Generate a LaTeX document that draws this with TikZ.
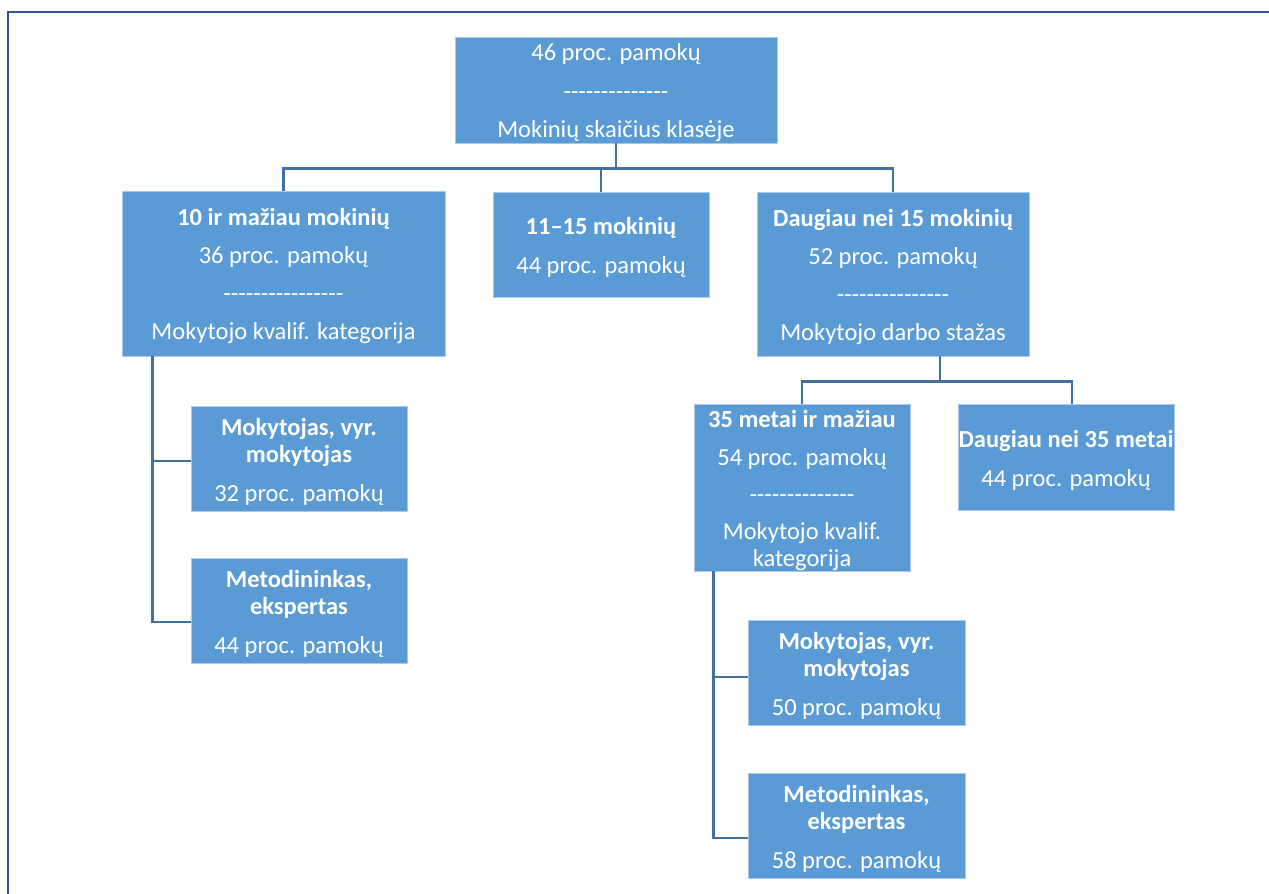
\documentclass[tikz,border=0pt]{standalone}
\usepackage{fontspec}
\newfontfamily\cfont{Carlito}
\definecolor{boxfill}{HTML}{5B9BD5}
\definecolor{boxedge}{HTML}{A9C9EA}
\definecolor{conn}{HTML}{41719C}
\definecolor{frame}{HTML}{2F5597}
\newcommand{\tstrut}{\rule{0pt}{23pt}}
\begin{document}
\begin{tikzpicture}[x=1pt,y=-1pt,
  box/.style={draw=boxedge, line width=0.8pt, fill=boxfill, text=white, inner sep=0pt,
    align=center, font=\cfont\fontsize{24.5}{27}\selectfont},
  link/.style={draw=conn, line width=2.5pt}]
\useasboundingbox (0,0) rectangle (1269,894);
\draw[frame, line width=1.6pt] (8,894) -- (8,12) -- (1269,12);

\node[box, minimum width=322pt, minimum height=106pt] (T) at (616,90)
  {\tstrut 46 proc. pamokų\\[11.5pt]--------------\\[11.5pt]Mokinių skaičius klasėje};
\node[box, minimum width=323pt, minimum height=165pt] (L) at (283.5,273.5)
  {\tstrut\textbf{10 ir mažiau mokinių}\\[11pt]36 proc. pamokų\\[11pt]----------------\\[11pt]Mokytojo kvalif. kategorija};
\node[box, minimum width=216pt, minimum height=105pt] (M) at (601,244.5)
  {\tstrut\textbf{11–15 mokinių}\\[12pt]44 proc. pamokų};
\node[box, minimum width=272pt, minimum height=164pt] (R) at (893,274)
  {\tstrut\textbf{Daugiau nei 15 mokinių}\\[11pt]52 proc. pamokų\\[11pt]---------------\\[11pt]Mokytojo darbo stažas};
\node[box, minimum width=216pt, minimum height=167pt] (R1) at (802,487.5)
  {\tstrut\textbf{35 metai ir mažiau}\\[11pt]54 proc. pamokų\\[10pt]--------------\\[10pt]Mokytojo kvalif.\\kategorija};
\node[box, minimum width=216pt, minimum height=106pt] (R2) at (1066,457)
  {\tstrut\textbf{Daugiau nei 35 metai}\\[12pt]44 proc. pamokų};
\node[box, minimum width=216pt, minimum height=105pt] (L1) at (299,458.5)
  {\tstrut\textbf{Mokytojas, vyr.}\\\textbf{mokytojas}\\[12pt]32 proc. pamokų};
\node[box, minimum width=216pt, minimum height=105pt] (L2) at (299,610.5)
  {\tstrut\textbf{Metodininkas,}\\\textbf{ekspertas}\\[12pt]44 proc. pamokų};
\node[box, minimum width=217pt, minimum height=105pt] (R11) at (856.5,672.5)
  {\tstrut\textbf{Mokytojas, vyr.}\\\textbf{mokytojas}\\[12pt]50 proc. pamokų};
\node[box, minimum width=217pt, minimum height=105pt] (R12) at (856.5,825.5)
  {\tstrut\textbf{Metodininkas,}\\\textbf{ekspertas}\\[12pt]58 proc. pamokų};

% top level connectors
\draw[link] (T.south) -- ++(0,25) -| (L.north);
\draw[link] (T.south) -- ++(0,25) -| (M.north);
\draw[link] (T.south) -- ++(0,25) -| (R.north);
% right subtree
\draw[link] ([xshift=47pt]R.south) -- ++(0,25) -| (R1.north);
\draw[link] ([xshift=47pt]R.south) -- ++(0,25) -| ([xshift=6pt]R2.north);
% left children
\draw[link] ([xshift=31pt]L.south west) |- ([yshift=-2.5pt]L1.west);
\draw[link] ([xshift=31pt]L.south west) |- ([yshift=-11.5pt]L2.west);
% right children
\draw[link] ([xshift=20pt]R1.south west) |- ([yshift=-4.5pt]R11.west);
\draw[link] ([xshift=20pt]R1.south west) |- ([yshift=-12.5pt]R12.west);
\end{tikzpicture}
\end{document}
